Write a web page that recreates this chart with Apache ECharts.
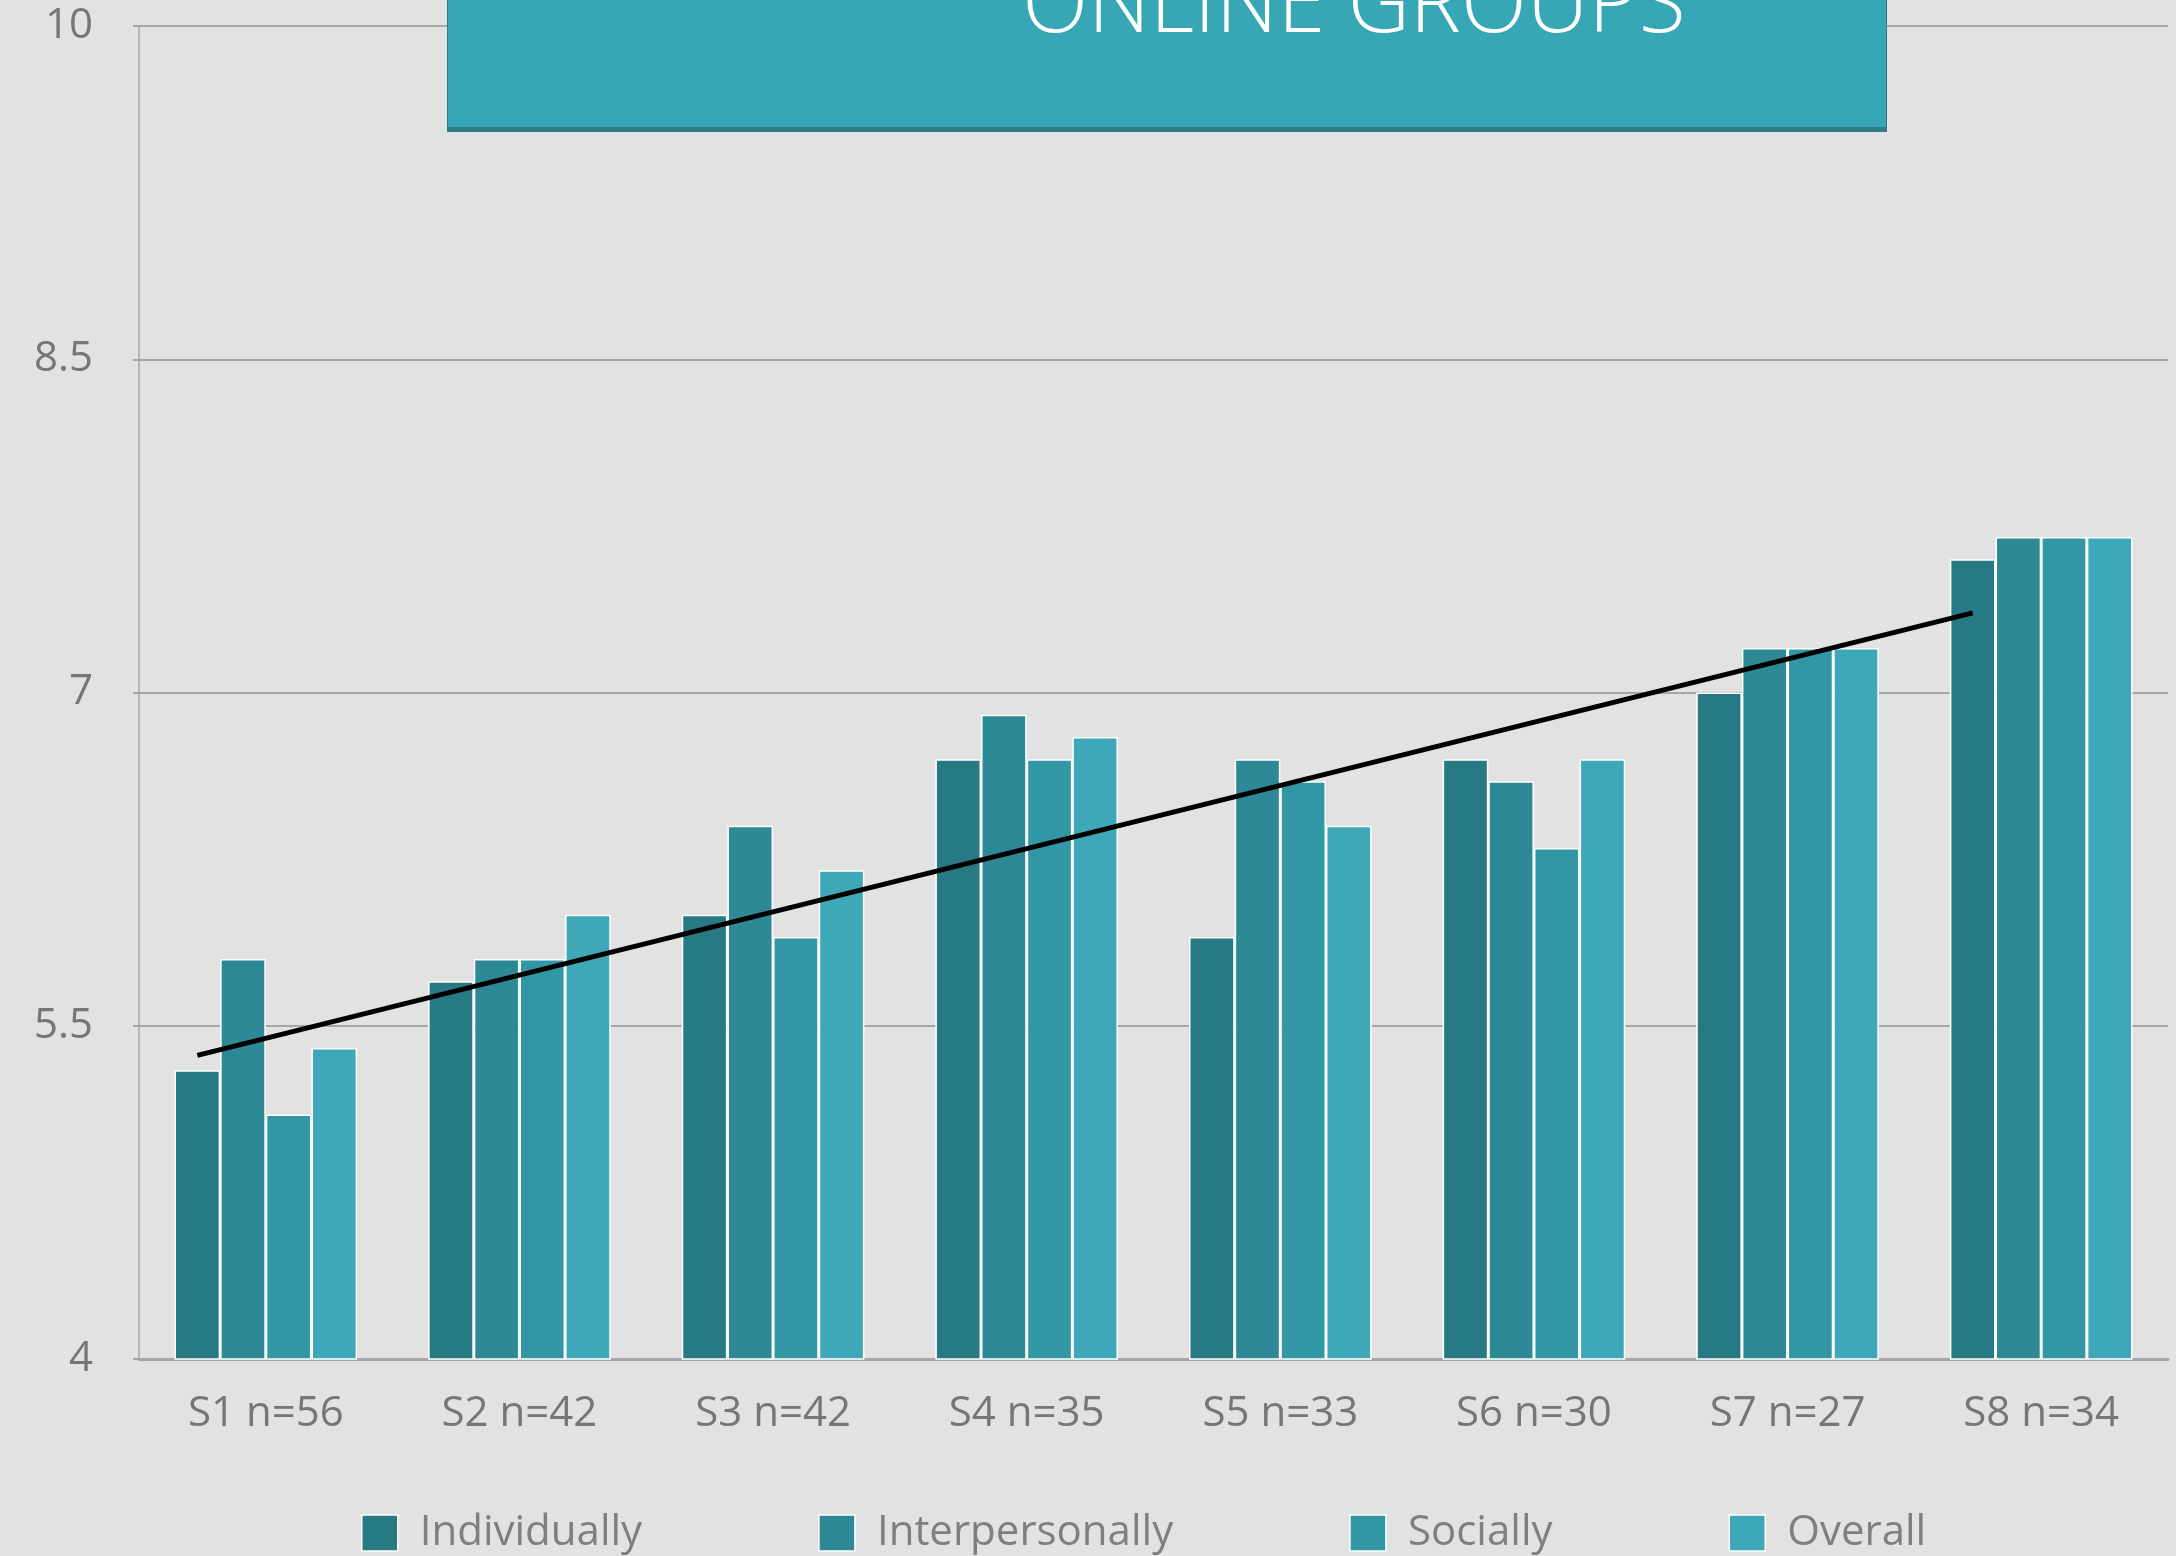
<!DOCTYPE html>
<html>
<head>
<meta charset="utf-8">
<script src="https://cdn.jsdelivr.net/npm/echarts@6/dist/echarts.min.js"></script>
<style>
  html, body { margin: 0; padding: 0; background: #e2e2e2; }
  #chart { width: 2176px; height: 1556px; }
</style>
</head>
<body>
<div id="chart"></div>
<script>
const categories = ['S1 n=56', 'S2 n=42', 'S3 n=42', 'S4 n=35', 'S5 n=33', 'S6 n=30', 'S7 n=27', 'S8 n=34']
const individually = [5.3, 5.7, 6.0, 6.7, 5.9, 6.7, 7.0, 7.6]
const interpersonally = [5.8, 5.8, 6.4, 6.9, 6.7, 6.6, 7.2, 7.7]
const socially = [5.1, 5.8, 5.9, 6.7, 6.6, 6.3, 7.2, 7.7]
const overall = [5.4, 6.0, 6.2, 6.8, 6.4, 6.7, 7.2, 7.7]
const yTicks = [4, 5.5, 7, 8.5, 10]
const titleText = 'ONLINE GROUPS'

const colors = ['#277a84', '#2c8995', '#3297a4', '#3ea8b8']
const gapPct = 28

// linear trendline of the "Individually" series (like the spreadsheet trendline)
function linearFit(values) {
  const n = values.length
  let sx = 0, sy = 0, sxy = 0, sxx = 0
  values.forEach((v, i) => {
    const x = i + 1
    sx += x; sy += v; sxy += x * v; sxx += x * x
  })
  const b = (n * sxy - sx * sy) / (n * sxx - sx * sx)
  const a = (sy - b * sx) / n
  return { a, b }
}
const fit = linearFit(individually)
// first bar of each group sits 1.5 bar widths left of the category centre
const barFrac = (1 - gapPct / 100) / 4
const offset = 1.5 * barFrac
const trend = [
  [0.5 - offset, fit.a + fit.b * 1],
  [categories.length - 0.5 - offset, fit.a + fit.b * categories.length]
]

const labelFont = { fontFamily: 'Open Sans', fontSize: 42, color: '#767676' }

function barSeries(name, data, color) {
  return {
    name: name,
    type: 'bar',
    data: data,
    barGap: 0,
    barCategoryGap: gapPct + '%',
    itemStyle: { color: color, borderColor: '#ffffff', borderWidth: 1.5 },
    emphasis: { disabled: true },
    z: 2
  }
}

const chart = echarts.init(document.getElementById('chart'))
chart.setOption({
  animation: false,
  backgroundColor: '#e2e2e2',
  grid: { left: 139, right: 8, top: 26, bottom: 197, containLabel: false },
  legend: {
    data: ['Individually', 'Interpersonally', 'Socially', 'Overall'],
    left: 356,
    top: 1507,
    icon: 'rect',
    itemWidth: 36,
    itemHeight: 36,
    itemGap: 176,
    itemStyle: { borderColor: '#ffffff', borderWidth: 1.5 },
    textStyle: { fontFamily: 'Open Sans', fontSize: 42, color: '#7f7f7f', padding: [0, 0, 0, 17] }
  },
  xAxis: [{
    type: 'category',
    data: categories,
    axisLine: { lineStyle: { color: '#a6a6a6', width: 3 } },
    axisTick: { length: 12, lineStyle: { color: '#a6a6a6', width: 2 } },
    axisLabel: Object.assign({ margin: 34 }, labelFont),
    splitLine: { show: false }
  }, {
    type: 'value',
    min: 0,
    max: categories.length,
    show: false
  }],
  yAxis: {
    type: 'value',
    min: 4,
    max: 10,
    axisLine: { show: true, lineStyle: { color: '#a6a6a6', width: 1.5 } },
    axisTick: { show: true, length: 6, customValues: yTicks, lineStyle: { color: '#a6a6a6', width: 2 } },
    axisLabel: Object.assign({ margin: 46, customValues: yTicks }, labelFont),
    splitLine: { show: true, lineStyle: { color: '#a6a6a6', width: 2 } }
  },
  series: [
    barSeries('Individually', individually, colors[0]),
    barSeries('Interpersonally', interpersonally, colors[1]),
    barSeries('Socially', socially, colors[2]),
    barSeries('Overall', overall, colors[3]),
    {
      name: 'Trend',
      type: 'line',
      xAxisIndex: 1,
      data: trend,
      showSymbol: false,
      lineStyle: { color: '#000000', width: 5 },
      emphasis: { disabled: true },
      z: 5
    }
  ],
  graphic: [{
    type: 'rect',
    shape: { x: 447, y: -10, width: 1440, height: 142 },
    style: { fill: '#2e7e88' },
    z: 10
  }, {
    type: 'rect',
    shape: { x: 448, y: -10, width: 1438, height: 137 },
    style: { fill: '#38a7b5' },
    z: 11
  }, {
    type: 'text',
    x: 1354,
    y: 50,
    style: {
      text: titleText,
      fill: '#ffffff',
      font: '300 86px "Open Sans"',
      textAlign: 'center',
      textVerticalAlign: 'bottom'
    },
    z: 12
  }]
})
</script>
</body>
</html>
